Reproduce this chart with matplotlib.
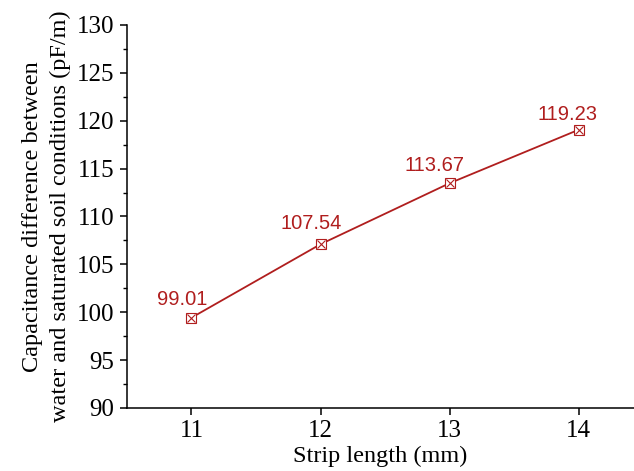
import matplotlib
matplotlib.use('agg')
import matplotlib.pyplot as plt
from matplotlib.ticker import MultipleLocator

# data
strip_len = [11, 12, 13, 14]
cap_diff = [99.43, 107.1, 113.47, 119.05]
labels = ['99.01', '107.54', '113.67', '119.23']
label_off = [(-7, 13), (-7, 15), (-11, 13), (-8, 11)]

red = '#b01e1e'

fig = plt.figure(figsize=(6.34, 4.71), dpi=100)
ax = fig.add_axes([0.2003, 0.1338, 0.7997, 0.8132])

ax.plot(strip_len, cap_diff, color=red, lw=1.3, zorder=2)
ax.plot(strip_len, cap_diff, ls='none', marker='s', ms=6.5, mfc='white',
        mec=red, mew=0.8, zorder=3)
ax.plot(strip_len, cap_diff, ls='none', marker='x', ms=5.5, mec=red,
        mew=0.8, zorder=4)

for x, y, t, off in zip(strip_len, cap_diff, labels, label_off):
    ax.annotate(t, (x, y), xytext=off, textcoords='offset points',
                ha='center', va='center', color=red, fontsize=14.5,
                family='Liberation Sans')

ax.set_xlim(10.5, 14.43)
ax.set_ylim(90, 130)
ax.set_xticks(strip_len)
ax.yaxis.set_major_locator(MultipleLocator(5))
ax.yaxis.set_minor_locator(MultipleLocator(2.5))

for s in ['top', 'right']:
    ax.spines[s].set_visible(False)
for s in ['left', 'bottom']:
    ax.spines[s].set_linewidth(1.1)

ax.tick_params(which='major', direction='out', length=5, width=1.1,
               labelsize=18, labelfontfamily='Liberation Serif')
ax.tick_params(axis='y', which='major', pad=4)
ax.tick_params(which='minor', direction='out', length=3, width=1.0)

ax.set_xlabel('Strip length (mm)', fontsize=17.5, family='Liberation Serif',
              labelpad=3)
ax.set_ylabel('Capacitance difference between\nwater and saturated soil conditions (pF/m)',
              fontsize=17.5, family='Liberation Serif', labelpad=4,
              linespacing=1.45)

fig.savefig('out.png', dpi=100)
